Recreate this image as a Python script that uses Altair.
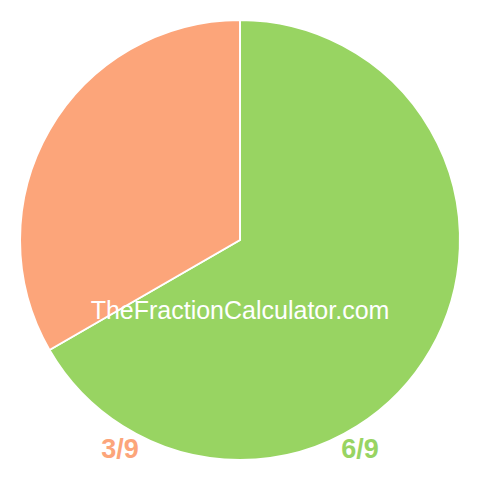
import altair as alt
import pandas as pd

labels = ["6/9", "3/9"]
values = [6, 3]
colors = ["#98D462", "#FCA57A"]
order = [0, 1]
label_x = [352, 112]

df = pd.DataFrame({"label": labels, "value": values, "order": order, "lx": label_x})

color_scale = alt.Scale(domain=labels, range=colors)

base = alt.Chart(df)

pie = base.mark_arc(radius=220, stroke="white", strokeWidth=2).encode(
    theta=alt.Theta("value:Q", stack=True),
    color=alt.Color("label:N", scale=color_scale, legend=None),
    order=alt.Order("order:Q"),
    x=alt.value(232),
    y=alt.value(232),
)

watermark = alt.Chart(pd.DataFrame({"t": ["TheFractionCalculator.com"]})).mark_text(
    font="Liberation Sans", fontSize=25, color="white", align="center", baseline="alphabetic"
).encode(text="t:N", x=alt.value(232), y=alt.value(311))

lbl = base.mark_text(
    font="Liberation Sans", fontSize=27, fontWeight="bold", align="center", baseline="alphabetic"
).encode(
    text="label:N",
    x=alt.X("lx:Q", scale=None),
    y=alt.value(450),
    color=alt.Color("label:N", scale=color_scale, legend=None),
)

chart = alt.layer(pie, watermark, lbl).properties(
    width=464, height=464, padding=0, autosize=alt.AutoSizeParams(type="none")
).configure_view(stroke=None)

chart.save("out.html", embed_options={"renderer": "svg", "actions": False})
